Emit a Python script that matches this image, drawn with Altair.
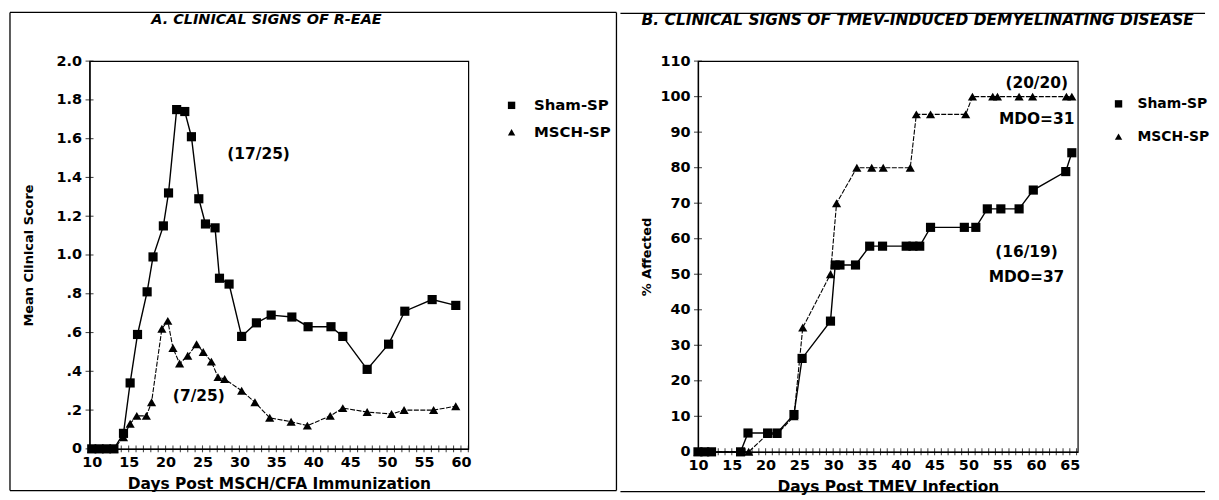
import altair as alt
import pandas as pd

FONT = "DejaVu Sans"
SERIES = ["Sham-SP", "MSCH-SP"]

# ---------------- Panel A data ----------------
A_SHAM_DAY = [10, 11, 12, 13, 14.3, 15.2, 16.2, 17.5, 18.3, 19.7, 20.4, 21.5, 22.6, 23.5, 24.5, 25.4,
              26.7, 27.3, 28.6, 30.3, 32.3, 34.3, 37.1, 39.3, 42.4, 44.0, 47.3, 50.2, 52.4, 56.1, 59.3]
A_SHAM_SCORE = [0, 0, 0, 0, 0.08, 0.34, 0.59, 0.81, 0.99, 1.15, 1.32, 1.75, 1.74, 1.61, 1.29, 1.16,
                1.14, 0.88, 0.85, 0.58, 0.65, 0.69, 0.68, 0.63, 0.63, 0.58, 0.41, 0.54, 0.71, 0.77, 0.74]
A_MSCH_DAY = [10, 11, 12, 13, 14.3, 15.2, 16.1, 17.4, 18.1, 19.5, 20.3, 21.0, 21.9, 23.0, 24.2, 25.1,
              26.2, 27.1, 28.0, 30.3, 32.1, 34.1, 37.0, 39.2, 42.3, 44.0, 47.3, 50.6, 52.3, 56.3, 59.3]
A_MSCH_SCORE = [0, 0, 0, 0, 0.06, 0.13, 0.17, 0.17, 0.24, 0.62, 0.66, 0.52, 0.44, 0.48, 0.54, 0.50,
                0.45, 0.37, 0.36, 0.30, 0.24, 0.16, 0.14, 0.12, 0.17, 0.21, 0.19, 0.18, 0.20, 0.20, 0.22]
A_NOTE_TEXT = ["(17/25)", "(7/25)"]
A_NOTE_DAY = [32.6, 24.5]
A_NOTE_VAL = [1.52, 0.27]
A_X_TICKS = list(range(10, 62))
A_Y_TICKS = [0, 0.2, 0.4, 0.6, 0.8, 1.0, 1.2, 1.4, 1.6, 1.8, 2.0]
A_TITLE = "A.  CLINICAL SIGNS OF R-EAE"
A_XTITLE = "Days Post MSCH/CFA Immunization"
A_YTITLE = "Mean Clinical Score"

# ---------------- Panel B data ----------------
B_SHAM_DAY = [10, 11, 12, 16.3, 17.4, 20.3, 21.7, 24.2, 25.4, 29.6, 30.3, 31.0, 33.3, 35.4, 37.3,
              40.8, 41.8, 42.8, 44.4, 49.4, 51.1, 52.8, 54.8, 57.5, 59.6, 64.4, 65.3]
B_SHAM_PCT = [0, 0, 0, 0, 5.3, 5.3, 5.3, 10.5, 26.3, 36.8, 52.6, 52.6, 52.6, 57.9, 57.9,
              57.9, 57.9, 57.9, 63.2, 63.2, 63.2, 68.4, 68.4, 68.4, 73.7, 78.9, 84.2]
B_MSCH_DAY = [10, 11, 12, 17.5, 20.3, 21.7, 24.2, 25.5, 29.6, 30.5, 33.5, 35.7, 37.4, 41.4, 42.3,
              44.4, 49.6, 50.6, 53.6, 54.3, 57.5, 59.5, 64.5, 65.3]
B_MSCH_PCT = [0, 0, 0, 0, 5, 5, 10, 35, 50, 70, 80, 80, 80, 80, 95,
              95, 95, 100, 100, 100, 100, 100, 100, 100]
B_NOTE_TEXT = ["(20/20)", "MDO=31", "(16/19)", "MDO=37"]
B_NOTE_DAY = [60.1, 60.1, 58.6, 58.6]
B_NOTE_VAL = [103.9, 93.7, 56.3, 49.2]
B_X_TICKS = list(range(10, 67))
B_Y_TICKS = [0, 10, 20, 30, 40, 50, 60, 70, 80, 90, 100, 110]
B_TITLE = "B.  CLINICAL SIGNS OF TMEV-INDUCED DEMYELINATING DISEASE"
B_XTITLE = "Days Post TMEV Infection"
B_YTITLE = "% Affected"


def long_df(sham_x, sham_y, msch_x, msch_y):
    return pd.DataFrame({
        "day": list(sham_x) + list(msch_x),
        "val": list(sham_y) + list(msch_y),
        "series": [SERIES[0]] * len(sham_x) + [SERIES[1]] * len(msch_x),
    })


def panel(df, notes, xdomain, ydomain, xticks, yticks, ylabel_expr, xtitle, ytitle,
          title, title_x, title_size, width, height, ytitle_x, frame, legend_xy, legend_fs,
          legend_off, legend_rowpad):
    xscale = alt.Scale(domain=xdomain, nice=False, zero=False)
    yscale = alt.Scale(domain=ydomain, nice=False, zero=True)
    xenc = alt.X("day:Q", scale=xscale,
                 axis=alt.Axis(values=xticks, title=xtitle, grid=False, ticks=False,
                               labelExpr="datum.value % 5 == 0 ? datum.label : ''",
                               labelFlush=False, labelOverlap=False,
                               labelPadding=7, titleY=35, titleBaseline="middle",
                               titleFontSize=15.5))
    yenc = alt.Y("val:Q", scale=yscale,
                 axis=alt.Axis(values=yticks, title=ytitle, grid=False, ticks=False,
                               labelExpr=ylabel_expr, labelOverlap=False,
                               labelPadding=8, titleX=ytitle_x, titleY=height / 2,
                               titleAngle=270, titleAlign="center",
                               titleBaseline="middle", titleFontSize=13))
    base = alt.Chart(df)
    sham_line = base.transform_filter(alt.datum.series == SERIES[0]).mark_line(
        color="black", strokeWidth=1.4).encode(x=xenc, y=yenc)
    msch_line = base.transform_filter(alt.datum.series == SERIES[1]).mark_line(
        color="black", strokeWidth=1.1, strokeDash=[5, 1.5]).encode(x=xenc, y=yenc)
    points = base.mark_point(filled=True, opacity=1, color="black", size=85).encode(
        x=xenc, y=yenc,
        shape=alt.Shape("series:N",
                        scale=alt.Scale(domain=SERIES, range=["square", "triangle-up"]),
                        legend=alt.Legend(title=None, orient="none",
                                          legendX=legend_xy[0], legendY=legend_xy[1],
                                          symbolSize=55, symbolFillColor="black",
                                          symbolStrokeColor="black", symbolStrokeWidth=0,
                                          labelFont=FONT, labelFontWeight="bold",
                                          labelFontSize=legend_fs, labelColor="black",
                                          labelOffset=legend_off, rowPadding=legend_rowpad,
                                          padding=0)),
    )
    # crossing "+" tick marks on both axes (same axis spec so axes are kept)
    xtick_layer = alt.Chart(pd.DataFrame({"day": xticks})).mark_tick(
        color="black", thickness=1.1, size=7, orient="vertical").encode(
        x=xenc, y=alt.value(height))
    ytick_layer = alt.Chart(pd.DataFrame({"val": yticks})).mark_tick(
        color="black", thickness=1.1, size=8, orient="horizontal").encode(
        y=yenc, x=alt.value(0))
    note_df = pd.DataFrame(notes)
    note_layer = alt.Chart(note_df).mark_text(
        font=FONT, fontWeight="bold", fontSize=15.5, color="black", align="center",
        baseline="middle").encode(x=xenc, y=yenc, text="text:N")
    title_layer = alt.Chart(pd.DataFrame({"t": [title]})).mark_text(
        font=FONT, fontWeight="bold", fontStyle="italic", fontSize=title_size, color="black",
        align="center", baseline="middle").encode(
        text="t:N", x=alt.value(title_x), y=alt.value(-41))
    one = pd.DataFrame({"k": [0]})
    layers = [sham_line, msch_line, points, note_layer, title_layer]
    for (x1, x2, y1, y2) in frame:
        layers.append(alt.Chart(one).mark_rule(color="black", strokeWidth=1.3).encode(
            x=alt.value(x1), x2=alt.value(x2), y=alt.value(y1), y2=alt.value(y2)))
    layers += [xtick_layer, ytick_layer]
    return alt.layer(*layers).properties(width=width, height=height)


A_W, A_H = 381, 390
B_W, B_H = 382, 393

A_ylabel = ("datum.value == 0 ? '0' : (datum.value < 1 ? "
            "replace(format(datum.value, '.1f'), '0.', '.') : format(datum.value, '.1f'))")

panel_a = panel(
    long_df(A_SHAM_DAY, A_SHAM_SCORE, A_MSCH_DAY, A_MSCH_SCORE),
    {"text": A_NOTE_TEXT, "day": A_NOTE_DAY, "val": A_NOTE_VAL},
    [9.7, 61], [0, 2], A_X_TICKS, A_Y_TICKS, A_ylabel, A_XTITLE, A_YTITLE,
    A_TITLE, 178, 14.5, A_W, A_H, -61,
    # frame: left, top, right, bottom (relative to plot origin)
    [(-80, -80, -49, 432), (-80, 530, -49, -49), (530, 530, -49, 432), (-80, 530, 432, 432)],
    (417, 37), 15, 15, 11,
)

panel_b = panel(
    long_df(B_SHAM_DAY, B_SHAM_PCT, B_MSCH_DAY, B_MSCH_PCT),
    {"text": B_NOTE_TEXT, "day": B_NOTE_DAY, "val": B_NOTE_VAL},
    [10, 66.18], [0, 110], B_X_TICKS, B_Y_TICKS, "datum.label", B_XTITLE, B_YTITLE,
    B_TITLE, 221, 15.5, B_W, B_H, -52,
    [(-78, 510, -48, -48), (-78, 510, 433, 433)],
    (416, 36), 14, 12, 19,
)

chart = alt.hconcat(panel_a, panel_b, spacing=0).resolve_scale(
    shape="independent"
).resolve_legend(shape="independent").properties(
    padding={"left": 0, "top": 1, "right": 0, "bottom": 0}
).configure_view(stroke="black", strokeWidth=1.2).configure_axis(
    domainColor="black", domainWidth=1.3, tickColor="black", tickWidth=1.2,
    labelColor="black", labelFont=FONT, labelFontWeight="bold", labelFontSize=14.5,
    titleColor="black", titleFont=FONT, titleFontWeight="bold",
).configure_concat(spacing=0)

chart.save("out.html", embed_options={"renderer": "svg", "actions": False})
